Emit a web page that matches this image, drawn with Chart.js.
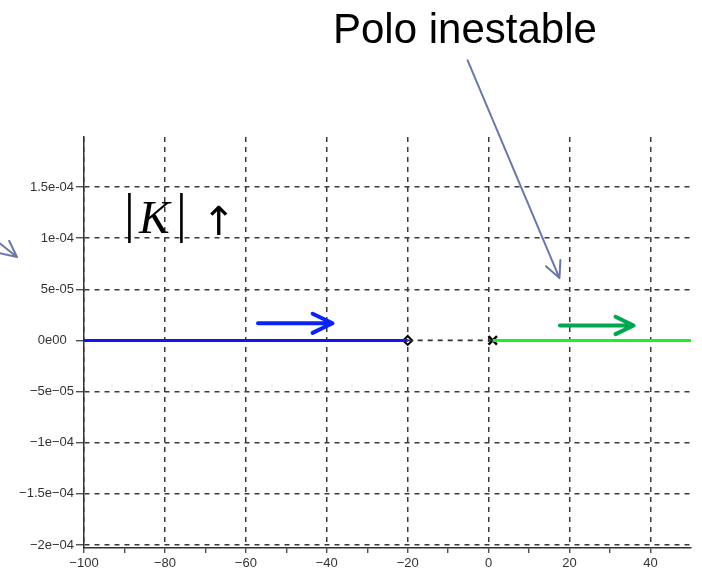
<!DOCTYPE html>
<html>
<head>
<meta charset="utf-8">
<script src="https://cdn.jsdelivr.net/npm/chart.js@4"></script>
<style>
  html, body { margin: 0; padding: 0; background: #fff; }
  #wrap { width: 702px; height: 576px; position: relative; }
</style>
</head>
<body>
<div id="wrap"><canvas id="rootLocus"></canvas></div>
<script>
// === Data ===
// root locus branches (real axis, imaginary part = 0)
const blueBranchX = [-100, -20];
const blueBranchY = [0, 0];
const gapX = [-20, 1];
const gapY = [0, 0];
const greenBranchX = [1, 50];
const greenBranchY = [0, 0];
const zeroX = [-20];   // open diamond
const poleX = [1];     // cross (unstable pole)

// axis ticks
const xTicks = [-100, -90, -80, -70, -60, -50, -40, -30, -20, -10, 0, 10, 20, 30, 40];
const xTickLabels = ['\u2212100', '', '\u221280', '', '\u221260', '', '\u221240', '', '\u221220', '', '0', '', '20', '', '40'];
const yTicks = [-2e-4, -1.5e-4, -1e-4, -5e-5, 0, 5e-5, 1e-4, 1.5e-4];
const yTickLabels = ['\u22122e\u221204', '\u22121.5e\u221204', '\u22121e\u221204', '\u22125e\u221205', '0e00  ', '5e-05', '1e-04', '1.5e-04'];

// direction arrows (data coords: [x0, x1], y)
const blueArrowX = [-57, -38.6];
const blueArrowY = 1.68e-5;
const greenArrowX = [17.6, 35.8];
const greenArrowY = 1.47e-5;

// annotation "Polo inestable" pointer (data coords)
const poloText = 'Polo inestable';
const poloArrowX = [-5.2, 17.5];
const poloArrowY = [2.74e-4, 6.1e-5];

// === Helpers ===
function pt(x, y) { return { x: x, y: y }; }
function zip(xs, ys) { return xs.map((x, i) => pt(x, ys[i])); }

function drawArrow(ctx, x0, y0, x1, y1, color, width, head) {
    const a = Math.atan2(y1 - y0, x1 - x0);
    ctx.save();
    ctx.strokeStyle = color;
    ctx.lineWidth = width;
    ctx.lineCap = 'round';
    ctx.lineJoin = 'round';
    ctx.beginPath();
    ctx.moveTo(x0, y0);
    ctx.lineTo(x1, y1);
    ctx.moveTo(x1 - head * Math.cos(a - 0.45), y1 - head * Math.sin(a - 0.45));
    ctx.lineTo(x1, y1);
    ctx.lineTo(x1 - head * Math.cos(a + 0.45), y1 - head * Math.sin(a + 0.45));
    ctx.stroke();
    ctx.restore();
}

// === Annotation plugin ===
const annotations = {
    id: 'annotations',
    afterDraw(chart) {
        const ctx = chart.ctx;
        const xs = chart.scales.x, ys = chart.scales.y;

        // blue / green direction arrows
        drawArrow(ctx, xs.getPixelForValue(blueArrowX[0]), ys.getPixelForValue(blueArrowY),
            xs.getPixelForValue(blueArrowX[1]), ys.getPixelForValue(blueArrowY), '#0a22f5', 4, 22);
        drawArrow(ctx, xs.getPixelForValue(greenArrowX[0]), ys.getPixelForValue(greenArrowY),
            xs.getPixelForValue(greenArrowX[1]), ys.getPixelForValue(greenArrowY), '#00a650', 4, 20);

        // pointer to unstable pole
        drawArrow(ctx, xs.getPixelForValue(poloArrowX[0]), ys.getPixelForValue(poloArrowY[0]),
            xs.getPixelForValue(poloArrowX[1]), ys.getPixelForValue(poloArrowY[1]), '#6a78a8', 2, 18);

        // cut-off arrow entering from the left edge
        drawArrow(ctx, -40, 212, 17, 257, '#6a78a8', 2, 18);

        ctx.save();
        ctx.fillStyle = '#000';
        ctx.textBaseline = 'alphabetic';
        ctx.font = '42px "Liberation Sans", Arial, sans-serif';
        ctx.textAlign = 'left';
        ctx.fillText(poloText, 333, 43);

        // |K| ↑
        ctx.font = '54px "Liberation Serif", "DejaVu Serif", serif';
        ctx.fillText('|', 124, 231);
        ctx.font = 'italic 46px "Liberation Serif", "DejaVu Serif", serif';
        ctx.fillText('K', 139, 233);
        ctx.font = '54px "Liberation Serif", "DejaVu Serif", serif';
        ctx.fillText('|', 176, 231);
        ctx.font = '40px "DejaVu Sans", sans-serif';
        ctx.fillText('\u2191', 202, 235);
        ctx.restore();
    }
};

// === Chart ===
const tickFont = { family: '"Liberation Sans", Arial, sans-serif', size: 13 };

new Chart(document.getElementById('rootLocus'), {
    type: 'scatter',
    data: {
        datasets: [
            {
                data: zip(blueBranchX, blueBranchY),
                showLine: true,
                borderColor: '#1414f2',
                borderWidth: 3,
                pointRadius: 0
            },
            {
                data: zip(gapX, gapY),
                showLine: true,
                borderColor: '#333',
                borderWidth: 1.8,
                borderDash: [5, 5],
                pointRadius: 0
            },
            {
                data: zip(greenBranchX, greenBranchY),
                showLine: true,
                borderColor: '#22ee22',
                borderWidth: 3,
                pointRadius: 0
            },
            {
                data: zeroX.map(x => pt(x, 0)),
                pointStyle: 'rectRot',
                pointRadius: 4.5,
                pointBackgroundColor: '#fff',
                pointBorderColor: '#000',
                pointBorderWidth: 2
            },
            {
                data: poleX.map(x => pt(x, 0)),
                pointStyle: 'crossRot',
                pointRadius: 6,
                pointBorderColor: '#000',
                pointBorderWidth: 2.4
            }
        ]
    },
    options: {
        responsive: true,
        maintainAspectRatio: false,
        animation: false,
        layout: { padding: { top: 137, right: 11, left: 0, bottom: 0 } },
        plugins: {
            legend: { display: false },
            tooltip: { enabled: false }
        },
        scales: {
            x: {
                type: 'linear',
                min: -100,
                max: 50,
                afterBuildTicks: scale => { scale.ticks = xTicks.map(v => ({ value: v })); },
                afterFit: scale => { scale.height = 28; },
                ticks: {
                    color: '#333',
                    font: tickFont,
                    padding: 3,
                    maxRotation: 0,
                    autoSkip: false,
                    callback: (v, i) => xTickLabels[i]
                },
                grid: {
                    color: ctx => (ctx.tick && ctx.tick.value % 20 === 0) ? '#3a3a3a' : 'rgba(0,0,0,0)',
                    lineWidth: 1.5,
                    tickColor: '#333',
                    tickLength: 5,
                    tickWidth: 1.2
                },
                border: { display: true, color: '#333', width: 1.5, dash: [5, 5] }
            },
            y: {
                type: 'linear',
                min: -2.03e-4,
                max: 1.99e-4,
                afterBuildTicks: scale => { scale.ticks = yTicks.map(v => ({ value: v })); },
                afterFit: scale => { scale.width = 84; },
                ticks: {
                    color: '#333',
                    font: tickFont,
                    padding: 2,
                    autoSkip: false,
                    callback: (v, i) => yTickLabels[i]
                },
                grid: {
                    // the zero line is drawn by the locus datasets themselves
                    color: ctx => (ctx.tick && ctx.tick.value === 0) ? 'rgba(0,0,0,0)' : '#3a3a3a',
                    lineWidth: 1.5,
                    tickColor: '#333',
                    tickLength: 8,
                    tickWidth: 1.2
                },
                border: { display: true, color: '#333', width: 1.5, dash: [5, 5] }
            }
        }
    },
    plugins: [annotations]
});
</script>
</body>
</html>
